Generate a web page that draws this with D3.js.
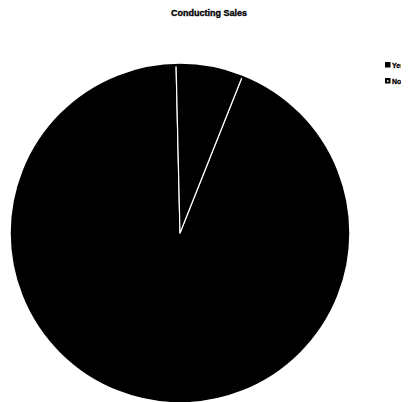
<!DOCTYPE html>
<html><head><meta charset="utf-8">
<script src="https://cdn.jsdelivr.net/npm/d3@7"></script>
<style>html,body{margin:0;padding:0;background:#fff;}svg{display:block;}</style>
</head><body>
<svg id="c" width="412" height="402"></svg>
<script>
const title = "Conducting Sales";
const categories = ["Yes", "No"];
const values = [93.6, 6.4];
const colors = ["#000", "#000"];

const svg = d3.select("#c");
const W = 412, H = 402;
const cx = 180, cy = 233, r = 168;

svg.append("text").attr("x", 209).attr("y", 16)
  .attr("text-anchor", "middle")
  .attr("font-family", "Liberation Sans, Arial, sans-serif")
  .attr("font-weight", "bold").attr("font-size", 9)
  .attr("stroke", "#000").attr("stroke-width", 0.35)
  .text(title);

const start = 21.7 * Math.PI / 180;
const pie = d3.pie().sort(null).startAngle(start).endAngle(start + 2 * Math.PI);
const arc = d3.arc().innerRadius(0).outerRadius(r);
const g = svg.append("g").attr("transform", `translate(${cx},${cy})`);
g.selectAll("path").data(pie(values)).join("path")
  .attr("d", arc)
  .attr("fill", (d, i) => colors[i])
  .attr("stroke", "#fff").attr("stroke-width", 1.2)
  .attr("stroke-linejoin", "round");
g.append("circle").attr("r", r).attr("fill", "none").attr("stroke", "#000").attr("stroke-width", 2.5);

svg.append("clipPath").attr("id", "lc").append("rect").attr("x", 0).attr("y", 0).attr("width", 401).attr("height", H);
const lg = svg.append("g").attr("clip-path", "url(#lc)");
const items = lg.selectAll("g").data(categories).join("g")
  .attr("transform", (d, i) => `translate(385,${62 + i * 16})`);
items.append("rect").attr("width", 5.5).attr("height", 5.5).attr("fill", "#000");
items.filter((d, i) => i === 1).append("rect").attr("x", 2.2).attr("y", 2).attr("width", 1.2).attr("height", 2).attr("fill", "#fff");
items.append("text").attr("x", 7).attr("y", 5.5)
  .attr("font-family", "Liberation Sans, Arial, sans-serif")
  .attr("font-weight", "bold").attr("font-size", 7)
  .attr("stroke", "#000").attr("stroke-width", 0.3)
  .text(d => d);
</script>
</body></html>
